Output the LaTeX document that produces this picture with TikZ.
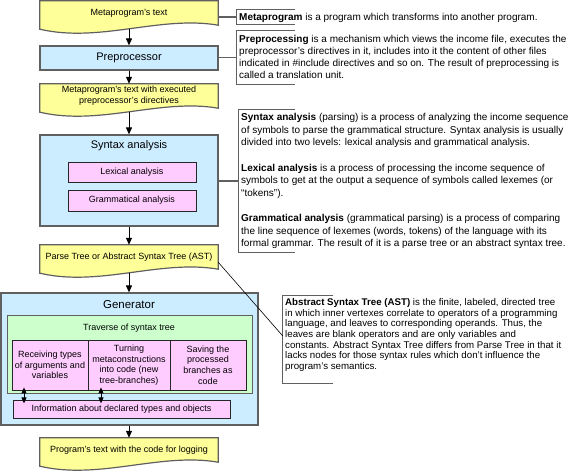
\documentclass[tikz,border=0pt]{standalone}
\usepackage{fontspec}
\setmainfont{Liberation Sans}
\usetikzlibrary{arrows.meta,backgrounds,positioning}
\definecolor{docyellow}{RGB}{255,255,153}
\definecolor{procblue}{RGB}{204,236,255}
\definecolor{subpink}{RGB}{255,204,255}
\definecolor{passgreen}{RGB}{204,255,204}
\definecolor{edgegray}{RGB}{96,96,96}
\newcommand{\fs}[2]{\fontsize{#1}{#2}\selectfont}

\begin{document}
\begin{tikzpicture}[x=1pt,y=-1pt]
\useasboundingbox (0,0) rectangle (580,471);
\tikzstyle{every node}=[font=\fs{9}{11},inner sep=0pt]
\tikzstyle{doc}=[minimum width=178pt,minimum height=24pt,align=center]
\tikzstyle{block}=[draw=edgegray,line width=1.2pt,fill=procblue,minimum width=178pt]
\tikzstyle{title}=[font=\fs{11}{13}]
\tikzstyle{part}=[draw=black!85,line width=0.8pt,fill=subpink,align=center,font=\fs{9}{10.6}]
\tikzstyle{flow}=[draw=black,line width=1pt,-{Triangle[length=7pt,width=6pt]}]
\tikzstyle{both}=[draw=black,line width=1pt,{Triangle[length=6pt,width=5pt]}-{Triangle[length=6pt,width=5pt]}]
\tikzstyle{brk}=[minimum height=14pt]
\tikzstyle{note}=[align=left,anchor=north west,font=\fs{10}{12.4}]
\tikzstyle{link}=[draw=edgegray,line width=1.5pt]

% main column
\node[doc] (meta) at (129,13) {Metaprogram's text};
\node[block,minimum height=24pt,title] (prep) at (129,58) {Preprocessor};
\node[doc] (metadir) at (129,96) {Metaprogram's text with executed\\preprocessor's directives};
\node[block,minimum height=91pt] (syntax) at (129,180.5) {};
\node[title] (syntaxname) at (129,146) {Syntax analysis};
\node[part,minimum width=128pt,minimum height=20pt] (lex) at (132,172) {Lexical analysis};
\node[part,minimum width=128pt,minimum height=21pt] (gram) at (132,200.5) {Grammatical analysis};
\node[doc] (ast) at (129,257) {Parse Tree or Abstract Syntax Tree (AST)};

% generator
\node[block,minimum width=257pt,minimum height=132pt] (gen) at (129.5,359) {};
\node[title,font=\fs{11.5}{13}] (genname) at (129,305) {Generator};
\node[draw=edgegray,line width=1pt,fill=passgreen,minimum width=245pt,minimum height=78pt] (walk) at (129.5,354) {};
\node (walkname) at (129,328) {Traverse of syntax tree};
\node[part,minimum width=76pt,minimum height=50pt] (recv) at (50,365) {Receiving types\\of arguments and\\variables};
\node[part,minimum width=82pt,minimum height=50pt] (turn) at (129,365) {Turning\\metaconstructions\\into code (new\\tree-branches)};
\node[part,minimum width=76pt,minimum height=50pt] (save) at (208,365) {Saving the\\processed\\branches as\\code};
\node[part,minimum width=217pt,minimum height=18pt] (info) at (121.5,409) {Information about declared types and objects};
\node[doc] (out) at (129,450) {Program's text with the code for logging};

\begin{scope}[on background layer]
\foreach \d in {meta,metadir,ast,out}
  \draw[draw=edgegray,line width=1.2pt,fill=docyellow] (\d.north west) -- (\d.north east) -- (\d.south east)
    .. controls ([xshift=-58pt,yshift=10pt]\d.south east) and ([xshift=60pt,yshift=-18pt]\d.south west) .. ([yshift=-4pt]\d.south west) -- cycle;
\end{scope}

\draw[flow] ([yshift=-3.5pt]meta.south) -- (prep.north);
\draw[flow] (prep.south) -- (metadir.north);
\draw[flow] ([yshift=-3.5pt]metadir.south) -- (syntax.north);
\draw[flow] (syntax.south) -- (ast.north);
\draw[flow] ([yshift=-3.5pt]ast.south) -- (ast.south |- gen.north);
\draw[flow] (out.north |- gen.south) -- (out.north);
\draw[both] ([xshift=-26pt,yshift=3pt]recv.south) -- ++(0,16);
\draw[both] ([xshift=-28pt,yshift=3pt]turn.south) -- ++(0,16);

% notes
\node[brk,minimum width=58pt] (metabrk) at (266,17) {};
\node[brk,minimum width=58pt,minimum height=53pt] (prepbrk) at (266,57.5) {};
\node[brk,minimum width=56pt,minimum height=142pt] (synbrk) at (267,181) {};
\node[brk,minimum width=50pt,minimum height=87pt] (astbrk) at (308,339.5) {};
\foreach \b in {metabrk,prepbrk,synbrk,astbrk}
  \draw[draw=edgegray,line width=1.2pt] (\b.north east) -- (\b.north west) -- (\b.south west) -- (\b.south east);

\draw[link] (metabrk.west) -- (metabrk.west -| meta.east);
\draw[link] (prepbrk.west) -- (prepbrk.west -| prep.east);
\draw[link] (synbrk.west) -- (synbrk.west -| syntax.east);
\draw[draw=black,line width=0.6pt] ([yshift=7pt]ast.south east) -- ([yshift=3.5pt]astbrk.west);

\node[note] (metanote) at (239,13.3) {\textbf{Metaprogram} is a program which transforms into another program.};
\node[note,font=\fs{10}{12}] (prepnote) at (239,35.3) {\textbf{Preprocessing} is a mechanism which views the income file, executes the\\
preprocessor's directives in it, includes into it the content of other files\\
indicated in \#include directives and so on. The result of preprocessing is\\
called a translation unit.};
\node[note,font=\fs{10}{12.6}] (synnote) at (241,113.3) {\textbf{Syntax analysis} (parsing) is a process of analyzing the income sequence\\
of symbols to parse the grammatical structure. Syntax analysis is usually\\
divided into two levels: lexical analysis and grammatical analysis.\\[12.6pt]
\textbf{Lexical analysis} is a process of processing the income sequence of\\
symbols to get at the output a sequence of symbols called lexemes (or\\
“tokens”).\\[12.6pt]
\textbf{Grammatical analysis} (grammatical parsing) is a process of comparing\\
the line sequence of lexemes (words, tokens) of the language with its\\
formal grammar. The result of it is a parse tree or an abstract syntax tree.};
\node[note,font=\fs{9.7}{10.6}] (astnote) at (285,298.4) {\textbf{Abstract Syntax Tree (AST)} is the finite, labeled, directed tree\\
in which inner vertexes correlate to operators of a programming\\
language, and leaves to corresponding operands. Thus, the\\
leaves are blank operators and are only variables and\\
constants. Abstract Syntax Tree differs from Parse Tree in that it\\
lacks nodes for those syntax rules which don't influence the\\
program's semantics.};
\end{tikzpicture}
\end{document}
